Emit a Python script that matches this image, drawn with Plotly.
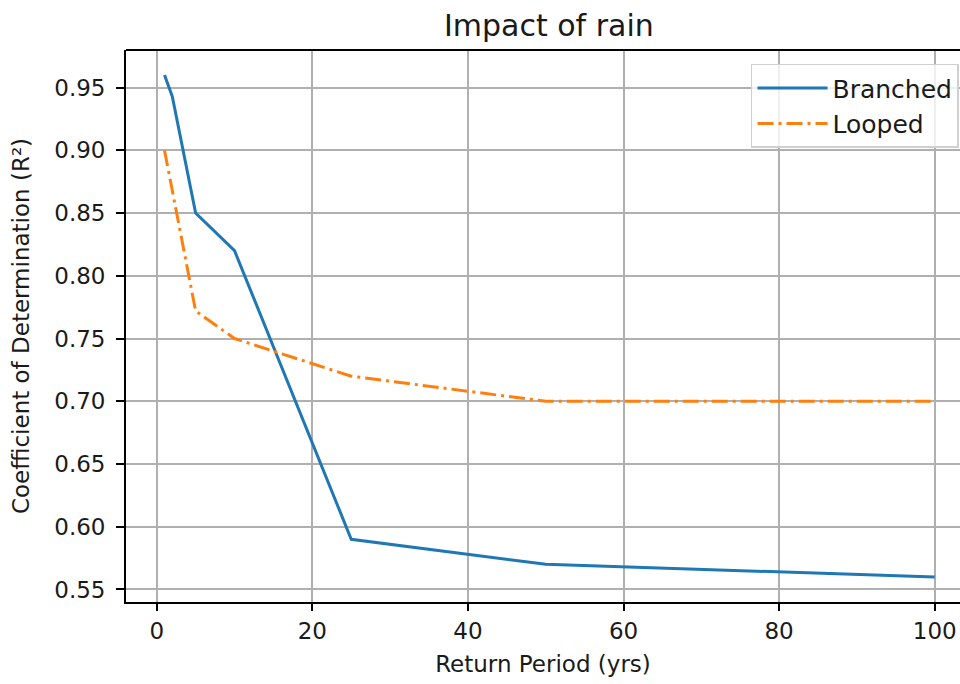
import plotly.graph_objects as go

# Data
return_period_branched = [1, 2, 5, 10, 25, 50, 100]
r2_branched = [0.96, 0.943, 0.85, 0.82, 0.59, 0.57, 0.56]
return_period_looped = [1, 5, 10, 25, 50, 100]
r2_looped = [0.90, 0.772, 0.75, 0.72, 0.70, 0.70]

x_ticks = [0, 20, 40, 60, 80, 100]
y_ticks = [0.55, 0.60, 0.65, 0.70, 0.75, 0.80, 0.85, 0.90, 0.95]
y_tick_labels = [f"{v:.2f}" for v in y_ticks]

FONT = "DejaVu Sans"

fig = go.Figure()
fig.add_trace(go.Scatter(
    x=return_period_branched, y=r2_branched, mode="lines", name="Branched",
    line=dict(color="#1f77b4", width=3),
))
fig.add_trace(go.Scatter(
    x=return_period_looped, y=r2_looped, mode="lines", name="Looped",
    line=dict(color="#ff7f0e", width=3, dash="16px,5px,3px,5px"),
))

fig.update_layout(
    width=960, height=684, autosize=False,
    margin=dict(l=126, r=0, t=50, b=82),
    paper_bgcolor="white", plot_bgcolor="white",
    font=dict(family=FONT, size=23, color="#1a1a1a"),
    title=dict(text="Impact of rain", x=0.507, xref="paper", xanchor="center",
               y=1 - 25 / 684, yref="container", yanchor="middle",
               font=dict(size=30, family=FONT, color="#1a1a1a")),
    showlegend=True,
    legend=dict(x=0.9988, y=0.975, xanchor="right", yanchor="top",
                bgcolor="rgba(255,255,255,0.8)", bordercolor="#d0d0d0", borderwidth=1.5,
                itemwidth=70,
                font=dict(size=25, family=FONT, color="#1a1a1a")),
)
fig.update_xaxes(
    range=[-3.95, 103.25], tickvals=x_ticks, ticktext=[str(v) for v in x_ticks],
    showgrid=True, gridcolor="#b0b0b0", gridwidth=1.6, zeroline=False,
    showline=True, linecolor="black", linewidth=1.8,
    ticks="outside", ticklen=7, tickwidth=1.6, tickcolor="black",
    title=dict(text="Return Period (yrs)", standoff=13, font=dict(size=23, family=FONT)),
)
fig.update_yaxes(
    range=[0.54, 0.98], tickvals=y_ticks, ticktext=y_tick_labels,
    showgrid=True, gridcolor="#b0b0b0", gridwidth=1.6, zeroline=False,
    showline=True, linecolor="black", linewidth=1.8,
    ticks="outside", ticklen=8, tickwidth=1.6, tickcolor="black",
    ticklabelstandoff=6,
    title=dict(text="Coefficient of Determination (R²)", standoff=18, font=dict(size=23, family=FONT)),
)
fig.add_shape(type="line", xref="paper", yref="paper", x0=0, x1=1, y0=1, y1=1,
              line=dict(color="black", width=1.8))

fig.write_html("out.html")
